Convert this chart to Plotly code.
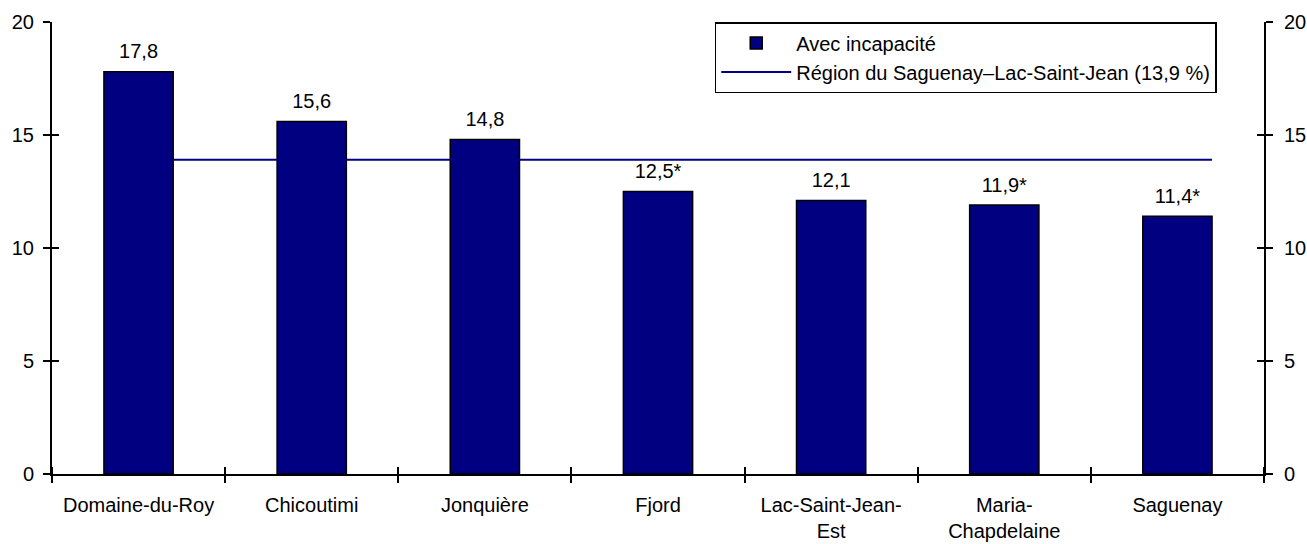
import plotly.graph_objects as go

# ---- data ----
categories = ["Domaine-du-Roy", "Chicoutimi", "Jonquière", "Fjord",
              "Lac-Saint-Jean-<br>Est", "Maria-<br>Chapdelaine", "Saguenay"]
values = [17.8, 15.6, 14.8, 12.5, 12.1, 11.9, 11.4]
flags = ["", "", "", "*", "", "*", "*"]
region_value = 13.9
y_ticks = [0, 5, 10, 15, 20]
bar_name = "Avec incapacité"
line_name = "Région du Saguenay–Lac-Saint-Jean (13,9 %)"

# ---- style ----
NAVY = "#000080"
FONT = dict(family="Liberation Sans, Arial, sans-serif", size=20, color="black")
BAR_W = 0.4
pos = list(range(len(categories)))
bounds = [p - 0.5 for p in pos] + [pos[-1] + 0.5]

fig = go.Figure()
fig.add_trace(go.Bar(
    x=pos, y=values, width=BAR_W, name=bar_name,
    marker=dict(color=NAVY, line=dict(color="black", width=1.5)),
))
fig.add_trace(go.Scatter(
    x=[p + BAR_W / 2 for p in pos], y=[region_value] * len(pos),
    mode="lines", line=dict(color=NAVY, width=2), name=line_name,
))
# value labels above bars
fig.add_trace(go.Scatter(
    x=pos, y=values, mode="markers+text", customdata=flags,
    texttemplate="%{y:.1f}%{customdata}", textposition="top center",
    textfont=FONT, marker=dict(size=12, opacity=0), cliponaxis=False,
    showlegend=False, hoverinfo="skip",
))
# invisible helpers so overlay axes are drawn
fig.add_trace(go.Scatter(x=[pos[0]], y=[0], xaxis="x2", yaxis="y3", mode="markers",
                         marker=dict(opacity=0), showlegend=False, hoverinfo="skip"))
fig.add_trace(go.Scatter(x=[pos[0]], y=[0], xaxis="x", yaxis="y2", mode="markers",
                         marker=dict(opacity=0), showlegend=False, hoverinfo="skip"))
fig.add_trace(go.Scatter(x=[pos[0]], y=[0], xaxis="x", yaxis="y4", mode="markers",
                         marker=dict(opacity=0), showlegend=False, hoverinfo="skip"))

tick_style = dict(tickwidth=2, tickcolor="black", ticklen=7)

fig.update_layout(
    width=1307, height=544,
    margin=dict(l=52, r=43, t=22, b=70, pad=0),
    paper_bgcolor="white", plot_bgcolor="white",
    font=FONT, separators=", ",
    showlegend=True,
    legend=dict(x=0.961, xanchor="right", y=1, yanchor="top",
                bordercolor="black", borderwidth=1.5, bgcolor="white",
                font=FONT, traceorder="normal", itemwidth=70,
                tracegroupgap=4),
    xaxis=dict(range=[-0.5, pos[-1] + 0.5], tickmode="array", tickvals=pos,
               ticktext=categories, ticks="", showgrid=False, zeroline=False,
               showline=True, linecolor="black", linewidth=2,
               ticklabelstandoff=12, automargin=False,
               minor=dict(tickmode="array", tickvals=bounds, ticks="outside",
                          **tick_style, showgrid=False)),
    xaxis2=dict(overlaying="x", matches="x", anchor="y", side="bottom",
                showticklabels=False, ticks="", showgrid=False, zeroline=False,
                showline=False, automargin=False,
                minor=dict(tickmode="array", tickvals=bounds, ticks="inside",
                           **tick_style, showgrid=False)),
    yaxis=dict(range=[0, 20], tickmode="array", tickvals=y_ticks, ticks="outside",
               **tick_style, showgrid=False, zeroline=False, showline=True,
               linecolor="black", linewidth=2, ticklabelstandoff=5,
               automargin=False),
    yaxis2=dict(overlaying="y", matches="y", side="right", anchor="x",
                tickmode="array", tickvals=y_ticks, ticks="outside", **tick_style,
                showgrid=False, zeroline=False, showline=True, linecolor="black",
                linewidth=2, ticklabelstandoff=7, automargin=False),
    yaxis3=dict(overlaying="y", matches="y", side="left", anchor="x",
                tickmode="array", tickvals=y_ticks, ticks="inside", **tick_style,
                showticklabels=False, showgrid=False, zeroline=False,
                showline=False, automargin=False),
    yaxis4=dict(overlaying="y", matches="y", side="right", anchor="x",
                tickmode="array", tickvals=y_ticks, ticks="inside", **tick_style,
                showticklabels=False, showgrid=False, zeroline=False,
                showline=False, automargin=False),
)

fig.write_html("out.html", config={"displayModeBar": False},
               post_script="document.body.style.margin='0';document.body.style.padding='0';")
